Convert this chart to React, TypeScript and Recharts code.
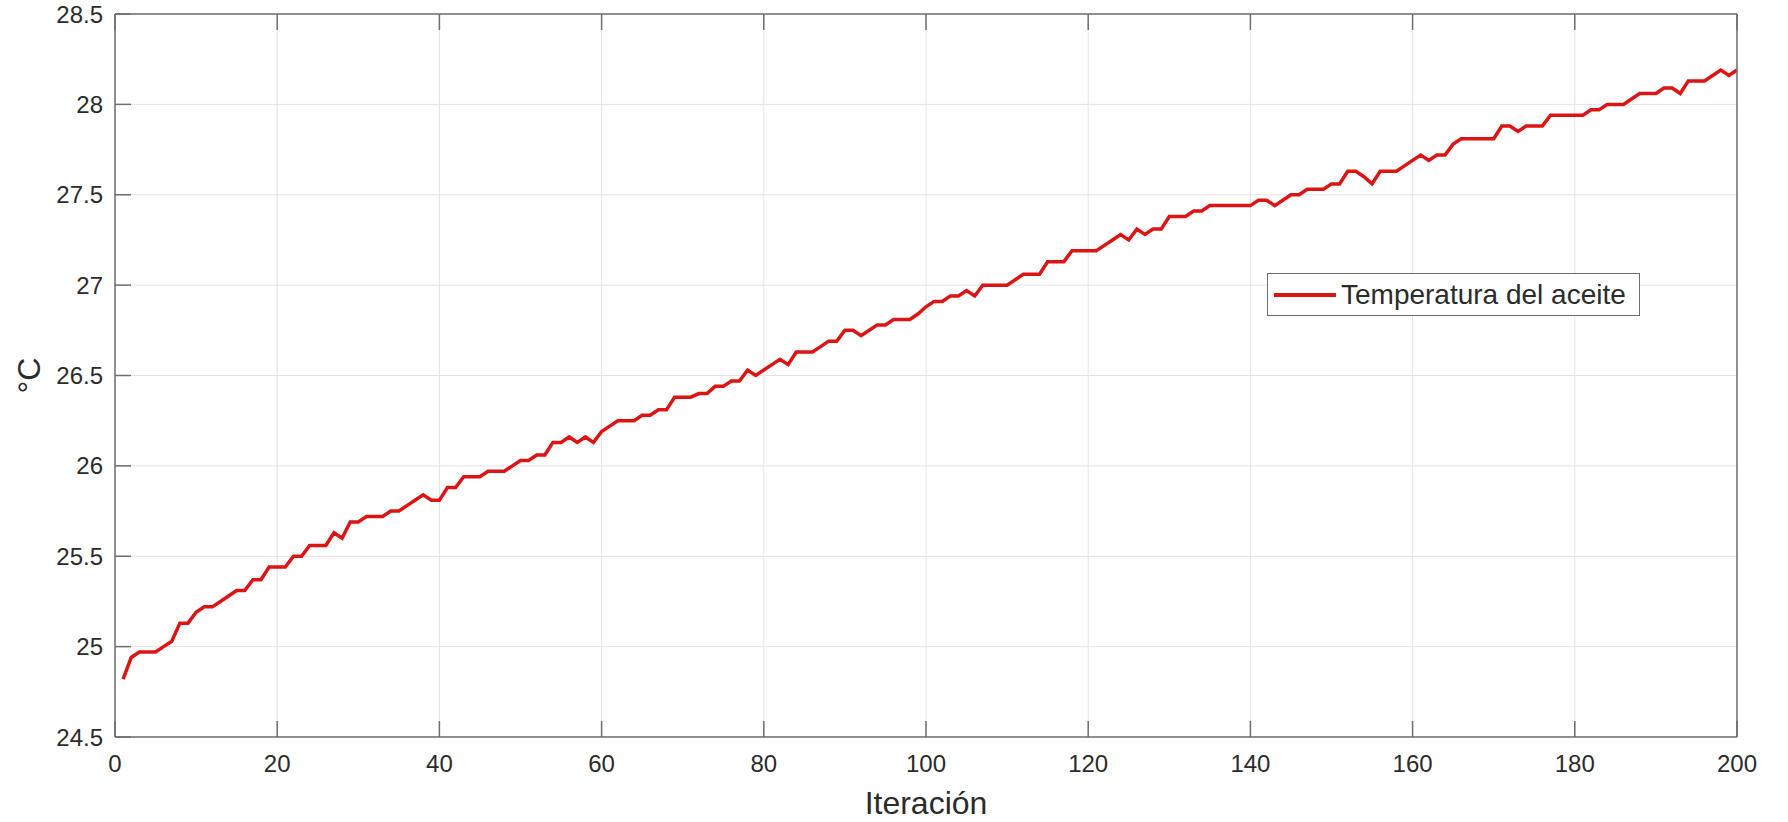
import React from "react";
import { LineChart, Line, XAxis, YAxis, CartesianGrid, Legend } from "recharts";

const iterations: number[] = Array.from({ length: 200 }, (_, i) => i + 1);

const temperatura: number[] = [
  24.82, 24.94, 24.97, 24.97, 24.97, 25.0, 25.03, 25.13, 25.13, 25.19,
  25.22, 25.22, 25.25, 25.28, 25.31, 25.31, 25.37, 25.37, 25.44, 25.44,
  25.44, 25.5, 25.5, 25.56, 25.56, 25.56, 25.63, 25.6, 25.69, 25.69,
  25.72, 25.72, 25.72, 25.75, 25.75, 25.78, 25.81, 25.84, 25.81, 25.81,
  25.88, 25.88, 25.94, 25.94, 25.94, 25.97, 25.97, 25.97, 26.0, 26.03,
  26.03, 26.06, 26.06, 26.13, 26.13, 26.16, 26.13, 26.16, 26.13, 26.19,
  26.22, 26.25, 26.25, 26.25, 26.28, 26.28, 26.31, 26.31, 26.38, 26.38,
  26.38, 26.4, 26.4, 26.44, 26.44, 26.47, 26.47, 26.53, 26.5, 26.53,
  26.56, 26.59, 26.56, 26.63, 26.63, 26.63, 26.66, 26.69, 26.69, 26.75,
  26.75, 26.72, 26.75, 26.78, 26.78, 26.81, 26.81, 26.81, 26.84, 26.88,
  26.91, 26.91, 26.94, 26.94, 26.97, 26.94, 27.0, 27.0, 27.0, 27.0,
  27.03, 27.06, 27.06, 27.06, 27.13, 27.13, 27.13, 27.19, 27.19, 27.19,
  27.19, 27.22, 27.25, 27.28, 27.25, 27.31, 27.28, 27.31, 27.31, 27.38,
  27.38, 27.38, 27.41, 27.41, 27.44, 27.44, 27.44, 27.44, 27.44, 27.44,
  27.47, 27.47, 27.44, 27.47, 27.5, 27.5, 27.53, 27.53, 27.53, 27.56,
  27.56, 27.63, 27.63, 27.6, 27.56, 27.63, 27.63, 27.63, 27.66, 27.69,
  27.72, 27.69, 27.72, 27.72, 27.78, 27.81, 27.81, 27.81, 27.81, 27.81,
  27.88, 27.88, 27.85, 27.88, 27.88, 27.88, 27.94, 27.94, 27.94, 27.94,
  27.94, 27.97, 27.97, 28.0, 28.0, 28.0, 28.03, 28.06, 28.06, 28.06,
  28.09, 28.09, 28.06, 28.13, 28.13, 28.13, 28.16, 28.19, 28.16, 28.19,
];

const xTicks: number[] = [0, 20, 40, 60, 80, 100, 120, 140, 160, 180, 200];
const yTicks: number[] = [24.5, 25, 25.5, 26, 26.5, 27, 27.5, 28, 28.5];

const seriesName = "Temperatura del aceite";
const xLabel = "Iteración";
const yLabel = "°C";

const data = iterations.map((it, i) => ({ x: it, t: temperatura[i] }));

const FONT = "'Liberation Sans', Arial, Helvetica, sans-serif";
const AXIS_COLOR = "#6e6e6e";
const TEXT_COLOR = "#2b2b2b";
const LINE_COLOR = "#dc1414";

const renderLegend = () => (
  <div
    style={{
      width: 373,
      height: 43,
      boxSizing: "border-box",
      border: `1.5px solid ${AXIS_COLOR}`,
      background: "#fff",
      display: "flex",
      alignItems: "center",
      paddingLeft: 6,
      fontFamily: FONT,
    }}
  >
    <svg width={62} height={10} style={{ display: "block" }}>
      <line x1={0} y1={5} x2={62} y2={5} stroke={LINE_COLOR} strokeWidth={4} />
    </svg>
    <span style={{ fontSize: 28, color: TEXT_COLOR, marginLeft: 5, whiteSpace: "nowrap" }}>
      {seriesName}
    </span>
  </div>
);

const NoLabel = () => <g />;

const XTitle = (props: any) => {
  const vb = props.viewBox || {};
  return (
    <text
      x={vb.x + vb.width / 2}
      y={vb.y + 77}
      textAnchor="middle"
      fontSize={32}
      fontFamily={FONT}
      fill={TEXT_COLOR}
    >
      {xLabel}
    </text>
  );
};

const YTitle = (props: any) => {
  const vb = props.viewBox || {};
  const cx = vb.x + 29;
  const cy = vb.y + vb.height / 2;
  return (
    <text
      x={cx}
      y={cy}
      transform={`rotate(-90, ${cx}, ${cy})`}
      textAnchor="middle"
      dominantBaseline="central"
      fontSize={32}
      fontFamily={FONT}
      fill={TEXT_COLOR}
    >
      {yLabel}
    </text>
  );
};

export default function App() {
  return (
    <div style={{ position: "absolute", left: 0, top: 0, width: 1788, height: 822, background: "#fff" }}>
      <LineChart
        width={1788}
        height={822}
        data={data}
        margin={{ top: 13, right: 50, left: 0, bottom: 0 }}
      >
        <CartesianGrid
          xAxisId="bottom"
          yAxisId="left"
          stroke="#e4e4e4"
          strokeWidth={1}
          verticalValues={xTicks}
          horizontalValues={yTicks}
        />
        <XAxis
          xAxisId="bottom"
          dataKey="x"
          type="number"
          domain={[0, 200]}
          ticks={xTicks}
          orientation="bottom"
          height={85}
          interval={0}
          allowDataOverflow
          stroke={AXIS_COLOR}
          strokeWidth={1.5}
          tickSize={-16}
          tickMargin={34}
          tick={{ fontSize: 24, fill: TEXT_COLOR, fontFamily: FONT }}
          label={<XTitle />}
        />
        <XAxis
          xAxisId="top"
          dataKey="x"
          type="number"
          domain={[0, 200]}
          ticks={xTicks}
          orientation="top"
          height={1}
          interval={0}
          stroke={AXIS_COLOR}
          strokeWidth={1.5}
          tickSize={-16}
          tick={<NoLabel />}
        />
        <YAxis
          yAxisId="left"
          type="number"
          domain={[24.5, 28.5]}
          ticks={yTicks}
          orientation="left"
          width={115}
          interval={0}
          allowDataOverflow
          stroke={AXIS_COLOR}
          strokeWidth={1.5}
          tickSize={-16}
          tickMargin={28}
          tick={{ fontSize: 24, fill: TEXT_COLOR, fontFamily: FONT }}
          label={<YTitle />}
        />
        <YAxis
          yAxisId="right"
          type="number"
          domain={[24.5, 28.5]}
          ticks={yTicks}
          orientation="right"
          width={1}
          interval={0}
          stroke={AXIS_COLOR}
          strokeWidth={1.5}
          tickSize={-16}
          tick={<NoLabel />}
        />
        <Legend
          layout="horizontal"
          verticalAlign="middle"
          align="center"
          content={renderLegend}
          wrapperStyle={{ position: "absolute", left: 1267, top: 273, width: "auto", height: "auto" }}
        />
        <Line
          xAxisId="bottom"
          yAxisId="left"
          type="linear"
          dataKey="t"
          name={seriesName}
          stroke={LINE_COLOR}
          strokeWidth={3.5}
          dot={false}
          activeDot={false}
          isAnimationActive={false}
        />
      </LineChart>
    </div>
  );
}
